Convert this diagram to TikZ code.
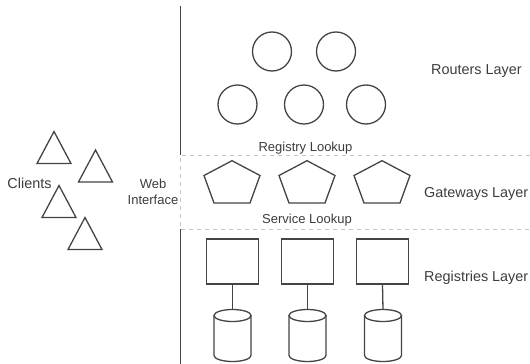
\documentclass[tikz,border=0pt]{standalone}
\usepackage{fontspec}
\setmainfont{Liberation Sans}
\begin{document}
\begin{tikzpicture}[x=1pt,y=-1pt,
  shp/.style={draw=linegray,line width=1.3pt},
  router/.style={shp,circle,minimum size=39pt,inner sep=0pt},
  registry/.style={shp,rectangle,minimum width=52pt,minimum height=45pt,inner sep=0pt},
  biglabel/.style={text=textgray,font=\fontsize{14.4}{17}\selectfont,inner sep=0pt},
  smalllabel/.style={text=textgray,font=\fontsize{13}{16}\selectfont,inner sep=0pt,align=center},
  band/.style={draw=dashgray,line width=1pt,dash pattern=on 4pt off 4pt},
  conn/.style={draw=linegray,line width=1.3pt}]
\definecolor{linegray}{HTML}{444444}
\definecolor{textgray}{HTML}{3C3C3C}
\definecolor{dashgray}{HTML}{C4C4C4}
\useasboundingbox (0,0) rectangle (530,364);

% divider
\coordinate (divtop) at (180.5,6);
\coordinate (bandtl) at (180.5,155);
\coordinate (bandbl) at (180.5,229);
\coordinate (divbot) at (180.5,364);
\coordinate (bandtr) at (530,155);
\coordinate (bandbr) at (530,229);
\draw[conn] (divtop) -- (bandtl);
\draw[conn] (bandbl) -- (divbot);
\draw[band] (bandtr) -- (bandtl) -- (bandbl) -- (bandbr);

% routers
\node[router] (r1) at (272,51.5) {};
\node[router] (r2) at (336,51.5) {};
\node[router] (r3) at (237.5,104.5) {};
\node[router] (r4) at (304,104.5) {};
\node[router] (r5) at (366,104.5) {};

% gateways (pentagons)
\foreach \cx/\nm in {232/g1,307/g2,382/g3}{
  \draw[shp,line join=miter] (\cx,160.7) -- (\cx+28,175.5) -- (\cx+18,203) -- (\cx-18,203) -- (\cx-28,175.5) -- cycle;
}

% registries
\node[registry] (s1) at (232.5,261.5) {};
\node[registry] (s2) at (307.5,261.5) {};
\node[registry] (s3) at (382.5,261.5) {};

% databases (cylinders)
\foreach \cx/\nm in {232.5/d1,307.5/d2,383/d3}{
  \coordinate (\nm) at (\cx,309.5);
  \draw[shp] (\cx,315.5) ellipse [x radius=18.5,y radius=6];
  \draw[shp] (\cx-18.5,315.5) -- (\cx-18.5,355.5) arc[start angle=180,end angle=0,x radius=18.5,y radius=6] -- (\cx+18.5,315.5);
}
\draw[conn] (s1.south) -- (d1);
\draw[conn] (s2.south) -- (d2);
\draw[conn] (s3.south) -- (d3);

% clients (triangles)
\foreach \ax/\ay in {54/131.5,95.5/150,59/185.5,85/217.5}{
  \draw[shp,line join=miter] (\ax,\ay) -- (\ax+17,\ay+32) -- (\ax-17,\ay+32) -- cycle;
}

% labels
\node[biglabel] (lclients) at (29.5,183) {Clients};
\node[smalllabel] (lweb) at (153,192) {Web\\Interface};
\node[biglabel,anchor=west] (lrouters) at (431,71) {Routers Layer};
\node[biglabel,anchor=west] (lgateways) at (424,194) {Gateways Layer};
\node[biglabel,anchor=west] (lregistries) at (424,278) {Registries Layer};
\node[smalllabel] (lreg) at (305.5,148) {Registry Lookup};
\node[smalllabel] (lsvc) at (307,220) {Service Lookup};
\end{tikzpicture}
\end{document}
